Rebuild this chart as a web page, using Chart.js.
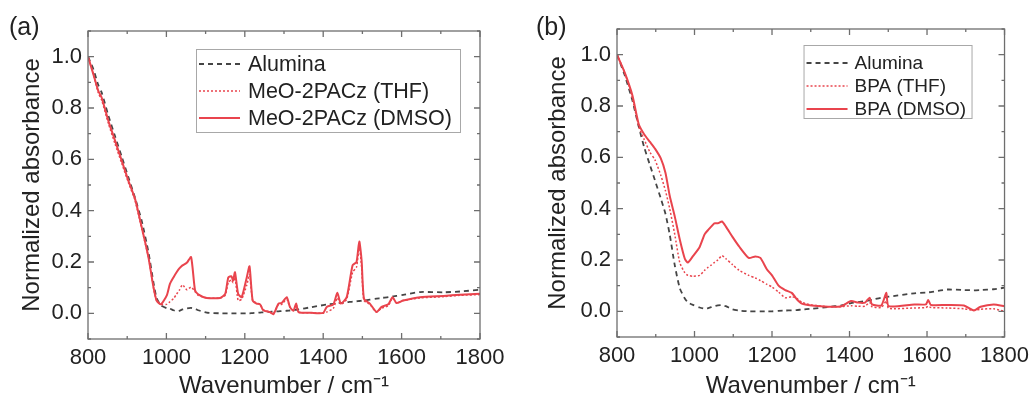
<!DOCTYPE html>
<html>
<head>
<meta charset="utf-8">
<script src="https://cdn.jsdelivr.net/npm/chart.js@4.4.1/dist/chart.umd.min.js"></script>
<style>
  body { margin: 0; background: #fff; }
  #wrap { position: relative; width: 1035px; height: 396px; }
  canvas { position: absolute; top: 0; }
  .tag { position: absolute; top: 12px; font: 25px "Liberation Sans", Arial, sans-serif; color: #222; }
</style>
</head>
<body>
<div id="wrap">
  <canvas id="chartA" width="517" height="396" style="left:0"></canvas>
  <canvas id="chartB" width="518" height="396" style="left:517px"></canvas>
  <div class="tag" style="left:9px">(a)</div>
  <div class="tag" style="left:536px">(b)</div>
</div>
<script>
// panel (a) - MeO-2PACz
var wnA = [800, 814, 826, 835, 852, 869, 886, 903, 920, 937, 954, 967, 975, 986, 1001, 1009, 1018, 1026, 1033, 1041,
    1052, 1063, 1073, 1081, 1103, 1137, 1150, 1158, 1166, 1170, 1175, 1183, 1192, 1205, 1212, 1220, 1230, 1239, 1247, 1264,
    1273, 1286, 1294, 1307, 1315, 1324, 1331, 1337, 1370, 1400, 1409, 1426, 1436, 1445, 1460, 1475, 1485, 1492, 1498, 1504,
    1519, 1536, 1549, 1566, 1577, 1587, 1604, 1647, 1707, 1749, 1800];
var aluminaA = [1.0, 0.95, 0.89, 0.86, 0.77, 0.69, 0.61, 0.53, 0.45, 0.36, 0.24, 0.12, 0.06, 0.031, 0.02, 0.018, 0.012, 0.008, 0.01, 0.015,
    0.019, 0.021, 0.018, 0.012, 0.003, 0.0, 0.0, 0.0, 0.0, 0.0, 0.0, 0.0, 0.0, 0.0, 0.0, 0.001, 0.002, 0.003, 0.004, 0.006,
    0.007, 0.008, 0.009, 0.01, 0.011, 0.012, 0.014, 0.015, 0.024, 0.032, 0.034, 0.037, 0.039, 0.041, 0.043, 0.046, 0.047, 0.048, 0.049, 0.05,
    0.053, 0.057, 0.06, 0.063, 0.066, 0.068, 0.072, 0.083, 0.082, 0.085, 0.092];
var thfA = [1.0, 0.93, 0.86, 0.83, 0.74, 0.66, 0.585, 0.51, 0.44, 0.33, 0.22, 0.10, 0.05, 0.035, 0.035, 0.045, 0.057, 0.075, 0.09, 0.111,
    0.092, 0.102, 0.085, 0.07, 0.06, 0.06, 0.07, 0.12, 0.13, 0.12, 0.14, 0.05, 0.055, 0.11, 0.15, 0.05, 0.04, 0.035, 0.015, 0.005,
    0.0, 0.035, 0.035, 0.055, 0.025, 0.012, 0.035, 0.005, 0.002, 0.0, 0.005, 0.02, 0.06, 0.035, 0.055, 0.16, 0.18, 0.26, 0.18, 0.05,
    0.035, 0.005, 0.02, 0.03, 0.06, 0.04, 0.05, 0.06, 0.065, 0.07, 0.073];
var dmsoA = [1.0, 0.93, 0.868, 0.84, 0.75, 0.673, 0.595, 0.517, 0.446, 0.336, 0.22, 0.102, 0.05, 0.035, 0.07, 0.115, 0.14, 0.16, 0.175, 0.187,
    0.197, 0.219, 0.09, 0.074, 0.06, 0.06, 0.076, 0.14, 0.144, 0.128, 0.16, 0.076, 0.063, 0.14, 0.183, 0.05, 0.038, 0.035, 0.012, 0.005,
    -0.004, 0.038, 0.04, 0.063, 0.025, 0.01, 0.038, 0.005, 0.002, 0.002, 0.025, 0.035, 0.08, 0.038, 0.063, 0.187, 0.2, 0.28, 0.206, 0.057,
    0.038, 0.005, 0.025, 0.035, 0.063, 0.04, 0.05, 0.063, 0.068, 0.072, 0.076];

// panel (b) - BPA
var wnB = [800, 820, 840, 856, 870, 885, 898, 913, 925, 936, 949, 962, 975, 983, 996, 1013, 1026, 1034, 1043, 1051,
    1060, 1071, 1081, 1098, 1115, 1140, 1157, 1170, 1187, 1200, 1217, 1234, 1251, 1264, 1277, 1302, 1345, 1379, 1404, 1422,
    1440, 1452, 1458, 1482, 1495, 1501, 1567, 1597, 1603, 1610, 1652, 1695, 1721, 1738, 1772, 1800];
var aluminaB = [1.0, 0.92, 0.82, 0.72, 0.64, 0.57, 0.51, 0.44, 0.38, 0.30, 0.18, 0.09, 0.05, 0.035, 0.025, 0.015, 0.01, 0.012, 0.016, 0.02,
    0.023, 0.024, 0.02, 0.008, 0.003, 0.0, 0.0, 0.0, 0.0, 0.0, 0.002, 0.003, 0.004, 0.005, 0.007, 0.01, 0.017, 0.023, 0.032, 0.036,
    0.04, 0.043, 0.045, 0.053, 0.055, 0.057, 0.07, 0.073, 0.074, 0.075, 0.085, 0.083, 0.082, 0.083, 0.086, 0.092];
var thfB = [1.0, 0.93, 0.83, 0.72, 0.67, 0.62, 0.59, 0.53, 0.47, 0.40, 0.30, 0.19, 0.15, 0.14, 0.137, 0.14, 0.16, 0.17, 0.18, 0.19,
    0.20, 0.217, 0.205, 0.182, 0.16, 0.14, 0.13, 0.12, 0.105, 0.095, 0.075, 0.053, 0.057, 0.05, 0.035, 0.025, 0.018, 0.018, 0.022, 0.02,
    0.02, 0.035, 0.018, 0.015, 0.04, 0.012, 0.013, 0.015, 0.02, 0.015, 0.013, 0.01, 0.004, 0.008, 0.01, 0.0];
var dmsoB = [1.0, 0.93, 0.84, 0.73, 0.69, 0.66, 0.634, 0.596, 0.54, 0.45, 0.37, 0.28, 0.205, 0.19, 0.215, 0.25, 0.30, 0.315, 0.33, 0.343,
    0.343, 0.35, 0.33, 0.29, 0.253, 0.208, 0.214, 0.208, 0.163, 0.14, 0.1, 0.083, 0.072, 0.047, 0.03, 0.023, 0.018, 0.02, 0.04, 0.034,
    0.034, 0.053, 0.027, 0.023, 0.072, 0.02, 0.027, 0.027, 0.044, 0.025, 0.025, 0.023, 0.003, 0.018, 0.027, 0.02];

var labelsA = ["Alumina", "MeO-2PACz (THF)", "MeO-2PACz (DMSO)"];
var labelsB = ["Alumina", "BPA (THF)", "BPA (DMSO)"];

var FONT = '"Liberation Sans", Arial, sans-serif';
var RED = '#e9444d';
var GREY = '#454545';

function pts(xs, ys) {
    return xs.map(function(x, i) { return {x: x, y: ys[i]}; });
}

// draws the frame and inward ticks on all four sides
var frameTicks = {
    id: 'frameTicks',
    afterDatasetsDraw: function(chart) {
        var ctx = chart.ctx, a = chart.chartArea;
        var xs = chart.scales.x, ys = chart.scales.y;
        ctx.save();
        ctx.strokeStyle = '#6e6e6e';
        ctx.lineWidth = 1.3;
        ctx.strokeRect(a.left, a.top, a.right - a.left, a.bottom - a.top);
        ctx.beginPath();
        xs.ticks.forEach(function(t) {
            var px = xs.getPixelForValue(t.value);
            var len = (Math.round(t.value) % 200 === 0) ? 6 : 3;
            ctx.moveTo(px, a.bottom); ctx.lineTo(px, a.bottom - len);
            ctx.moveTo(px, a.top); ctx.lineTo(px, a.top + len);
        });
        ys.ticks.forEach(function(t) {
            var py = ys.getPixelForValue(t.value);
            var len = (Math.round(t.value * 10) % 2 === 0) ? 6 : 3;
            ctx.moveTo(a.left, py); ctx.lineTo(a.left + len, py);
            ctx.moveTo(a.right, py); ctx.lineTo(a.right - len, py);
        });
        ctx.stroke();
        ctx.restore();
    }
};

// legend in a box inside the plot
var boxLegend = {
    id: 'boxLegend',
    afterDraw: function(chart, args, o) {
        var ctx = chart.ctx, a = chart.chartArea;
        var left = a.right - o.right - o.w, top = a.top + o.top;
        ctx.save();
        ctx.fillStyle = '#fff';
        ctx.fillRect(left, top, o.w, o.h);
        ctx.strokeStyle = '#a8a8a8';
        ctx.lineWidth = 1;
        ctx.strokeRect(left + 0.5, top + 0.5, o.w, o.h);
        ctx.font = o.size + 'px ' + FONT;
        ctx.textBaseline = 'middle';
        chart.data.datasets.forEach(function(ds, i) {
            var y = top + o.first + i * o.row;
            ctx.strokeStyle = ds.borderColor;
            ctx.lineWidth = ds.borderWidth;
            ctx.setLineDash(ds.borderDash || []);
            ctx.beginPath();
            ctx.moveTo(left + 3, y);
            ctx.lineTo(left + 3 + o.sample, y);
            ctx.stroke();
            ctx.setLineDash([]);
            ctx.fillStyle = '#222';
            ctx.fillText(ds.label, left + o.textX, y + 1);
        });
        ctx.restore();
    }
};

function makeChart(id, wn, alu, thf, dmso, labels, geo, leg) {
    return new Chart(document.getElementById(id), {
        type: 'line',
        data: {
            datasets: [
                { label: labels[0], data: pts(wn, alu), borderColor: GREY, borderWidth: 1.8, borderDash: [5, 4], order: 2 },
                { label: labels[1], data: pts(wn, thf), borderColor: RED, borderWidth: 1.5, borderDash: [2, 2], order: 1 },
                { label: labels[2], data: pts(wn, dmso), borderColor: RED, borderWidth: 2, order: 0 }
            ]
        },
        options: {
            responsive: false,
            animation: false,
            devicePixelRatio: 1,
            elements: { point: { radius: 0 }, line: { tension: 0.2 } },
            layout: { padding: { top: geo.top, right: geo.right, left: 0, bottom: 0 } },
            plugins: {
                legend: { display: false },
                tooltip: { enabled: false },
                boxLegend: leg
            },
            scales: {
                x: {
                    type: 'linear', min: 800, max: 1800,
                    grid: { display: false, drawTicks: false },
                    border: { display: false },
                    ticks: {
                        stepSize: 100, autoSkip: false, maxRotation: 0, padding: 6,
                        color: '#222', font: { family: FONT, size: 22 },
                        callback: function(v) { return Math.round(v) % 200 === 0 ? String(Math.round(v)) : ''; }
                    },
                    title: { display: true, text: 'Wavenumber / cm\u207B\u00B9', color: '#222',
                             font: { family: FONT, size: 24, lineHeight: 0.8 }, padding: { top: 0, bottom: 0 } },
                    afterFit: function(s) { s.height = geo.xh; }
                },
                y: {
                    min: -0.1, max: 1.1,
                    grid: { display: false, drawTicks: false },
                    border: { display: false },
                    ticks: {
                        stepSize: 0.1, autoSkip: false, padding: 6,
                        color: '#222', font: { family: FONT, size: 22 },
                        callback: function(v) {
                            var r = Math.round(v * 10);
                            return (r >= 0 && r % 2 === 0 && r <= 10) ? (r / 10).toFixed(1) : '';
                        }
                    },
                    title: { display: true, text: 'Normalized absorbance', color: '#222',
                             font: { family: FONT, size: 24, lineHeight: 1.2 }, padding: { top: geo.tp, bottom: 0 } },
                    afterFit: function(s) { s.width = geo.yw; }
                }
            }
        },
        plugins: [frameTicks, boxLegend]
    });
}

makeChart('chartA', wnA, aluminaA, thfA, dmsoA, labelsA,
    { top: 31, right: 37, yw: 88, xh: 57, tp: 18 },
    { right: 20, top: 18, w: 264, h: 83, first: 15, row: 27, sample: 41, textX: 52, size: 21.5 });
makeChart('chartB', wnB, aluminaB, thfB, dmsoB, labelsB,
    { top: 29, right: 27, yw: 100, xh: 59, tp: 27 },
    { right: 33, top: 16, w: 168, h: 73, first: 18, row: 23, sample: 41, textX: 51, size: 19 });
</script>
</body>
</html>
